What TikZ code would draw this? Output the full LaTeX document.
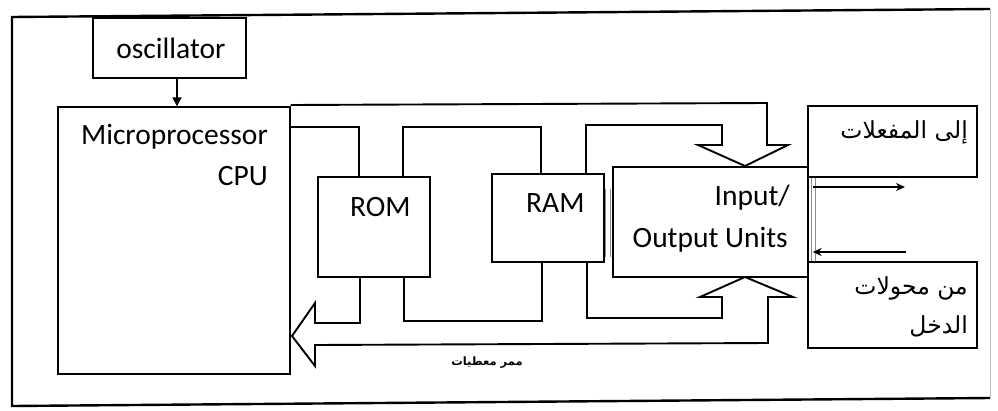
\documentclass[tikz,border=0pt]{standalone}
\usepackage{fontspec}
\setmainfont{Carlito}
\newfontfamily\arabicfont[Script=Arabic]{DejaVu Sans}
\TeXXeTstate=1
\usetikzlibrary{arrows.meta}
\tikzset{
  box/.style={draw=black,line width=1.4pt,fill=white,rectangle,inner sep=0pt},
  bus/.style={draw=black,line width=1.9pt,line join=miter},
  lbl/.style={inner sep=0pt,font=\fontsize{29.5}{35}\selectfont},
  arlbl/.style={inner sep=0pt,font=\arabicfont\fontsize{23.5}{28}\selectfont},
  sig/.style={draw=black,line width=1.6pt,-{Stealth[length=9pt,width=8pt]}},
  strip/.style={draw=black!45,line width=1pt}
}
\begin{document}
\begin{tikzpicture}[x=1pt,y=-1pt]
\useasboundingbox (0,0) rectangle (998,410);
% outer frame
\draw[line width=2.4pt] (990,9) -- (12,17) -- (12,406) -- (990,398);
\draw[line width=1pt,black!25] (990,9) -- (990,398);

% boxes
\node[box,minimum width=153pt,minimum height=60pt] (osc) at (169.5,48) {};
\node[box,minimum width=232pt,minimum height=267pt] (cpu) at (174,240.5) {};
\node[box,minimum width=112pt,minimum height=100pt] (rom) at (374,227) {};
\node[box,minimum width=112pt,minimum height=88pt] (ram) at (548,218) {};
\node[box,minimum width=195pt,minimum height=110pt] (io) at (710.5,222) {};

% data bus (top)
\draw[bus] (cpu.north east |- 0,105) -- (767,103) -- (767,145) -- (788,145) -- (745,166)
  -- (698,145) -- (722,145) -- (722,125) -- (586,125) -- (586,174);
\draw[bus] (541,174) -- (541,127) -- (403,127) -- (403,177);
\draw[bus] (359,177) -- (359,127) -- (cpu.east |- 0,127);
% data bus (bottom)
\draw[bus] (542,262) -- (542,321) -- (404,321) -- (404,277);
\draw[bus] (360,277) -- (360,323) -- (315,323) -- (315,303) -- (292,336) -- (315,366)
  -- (315,345) -- (768,343) -- (768,297) -- (793,297) -- (745,277) -- (700,297)
  -- (722,297) -- (722,318) -- (587,318) -- (587,262);

% connecting strips
\draw[strip] (605,189) -- (605,257);
\draw[strip] (610,189) -- (610,257);
\draw[strip] (811,178) -- (811,262);
\draw[strip] (815,178) -- (815,262);

% redraw boxes over bus ends
\node[box,minimum width=112pt,minimum height=100pt] at (rom) {};
\node[box,minimum width=112pt,minimum height=88pt] at (ram) {};
\node[box,minimum width=195pt,minimum height=110pt] at (io) {};
\node[box,minimum width=169pt,minimum height=71pt] (act) at (892.5,141.5) {};
\node[box,minimum width=169pt,minimum height=86pt] (sens) at (892.5,305) {};

% texts
\node[lbl,anchor=base] (tosc) at (171,58) {oscillator};
\node[lbl,anchor=base east] (tmp) at (268,144) {Microprocessor};
\node[lbl,anchor=base east] (tcpu) at (268,185) {CPU};
\node[lbl,anchor=base west] (trom) at (350,216) {ROM};
\node[lbl,anchor=base west] (tram) at (526,212) {RAM};
\node[lbl,anchor=base east] (tin) at (790,205) {Input/};
\node[lbl,anchor=base east] (tout) at (788,247) {Output Units};
\node[arlbl,anchor=base east] (tact) at (968,138) {\beginR إلى المفعلات\endR};
\node[arlbl,anchor=base east] (ts1) at (968,294) {\beginR من محولات\endR};
\node[arlbl,anchor=base east] (ts2) at (968,333) {\beginR الدخل\endR};
\node[inner sep=0pt,font=\arabicfont\bfseries\fontsize{11.5}{13}\selectfont] (tbus) at (487,363) {\beginR ممر معطيات\endR};

% signal arrows
\draw[draw=black,line width=1.8pt,-{Triangle[length=9pt,width=9pt]}] (osc.south -| 177,0) -- (cpu.north -| 177,0);
\coordinate (outend) at (905,187);
\coordinate (inbeg) at (906,252);
\draw[sig] (io.east |- outend) ++(4,0) -- (outend);
\draw[sig] (inbeg) -- ([xshift=4pt]io.east |- inbeg);
\end{tikzpicture}
\end{document}
